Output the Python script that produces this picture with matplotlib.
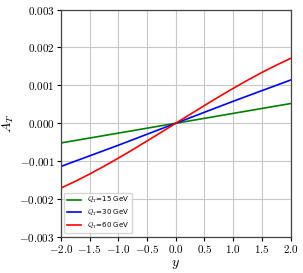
import numpy as np
import matplotlib
matplotlib.use("Agg")
import matplotlib.pyplot as plt

plt.rcParams["font.family"] = "serif"
plt.rcParams["font.serif"] = ["cmr10"]
plt.rcParams["mathtext.fontset"] = "cm"
plt.rcParams["axes.formatter.use_mathtext"] = True

y = [-2.0, -1.75, -1.5, -1.25, -1.0, -0.75, -0.5, -0.25, 0.0,
     0.25, 0.5, 0.75, 1.0, 1.25, 1.5, 1.75, 2.0]
a_15 = [-0.00052, -0.000455, -0.00039, -0.000325, -0.00026, -0.000195, -0.00013, -0.000065, 0.0,
        0.000065, 0.00013, 0.000195, 0.00026, 0.000325, 0.00039, 0.000455, 0.00052]
a_30 = [-0.00114, -0.00100, -0.00086, -0.00072, -0.00058, -0.000435, -0.00029, -0.000145, 0.0,
        0.000145, 0.00029, 0.000435, 0.00058, 0.00072, 0.00086, 0.00100, 0.00114]
a_60 = [-0.00171, -0.001532, -0.00134, -0.001135, -0.00092, -0.000698, -0.000468, -0.000235, 0.0,
        0.000235, 0.000468, 0.000698, 0.00092, 0.001135, 0.00134, 0.001532, 0.00171]
labels = ["$Q_T$=15 GeV", "$Q_T$=30 GeV", "$Q_T$=60 GeV"]

fig = plt.figure(figsize=(3.03, 2.73), dpi=100)
ax = fig.add_axes([0.201, 0.132, 0.758, 0.833])

ax.plot(y, a_15, color="green", lw=1.2, label=labels[0])
ax.plot(y, a_30, color="blue", lw=1.2, label=labels[1])
ax.plot(y, a_60, color="red", lw=1.2, label=labels[2])

ax.set_xlim(-2, 2)
ax.set_ylim(-0.003, 0.003)
ax.set_xticks([-2.0, -1.5, -1.0, -0.5, 0.0, 0.5, 1.0, 1.5, 2.0])
ax.set_yticks([-0.003, -0.002, -0.001, 0.0, 0.001, 0.002, 0.003])
ax.set_xticklabels(["$%.1f$" % v for v in ax.get_xticks()])
ax.set_yticklabels(["$%.3f$" % v for v in ax.get_yticks()])
ax.tick_params(labelsize=8, length=3, width=0.8, pad=1.5, top=False, right=False)
ax.grid(True, color="#c8c8c8", lw=0.8)
for s in ax.spines.values():
    s.set_color("#444444")
    s.set_linewidth(0.9)

ax.set_xlabel("$y$", fontsize=10, labelpad=2)
ax.set_ylabel("$A_T$", fontsize=10, labelpad=2)

ax.legend(loc="lower left", prop={"family": "DejaVu Sans", "size": 5},
          handlelength=2.0, labelspacing=0.35, borderpad=0.4, framealpha=0.8)

fig.savefig("out.png", dpi=100)
